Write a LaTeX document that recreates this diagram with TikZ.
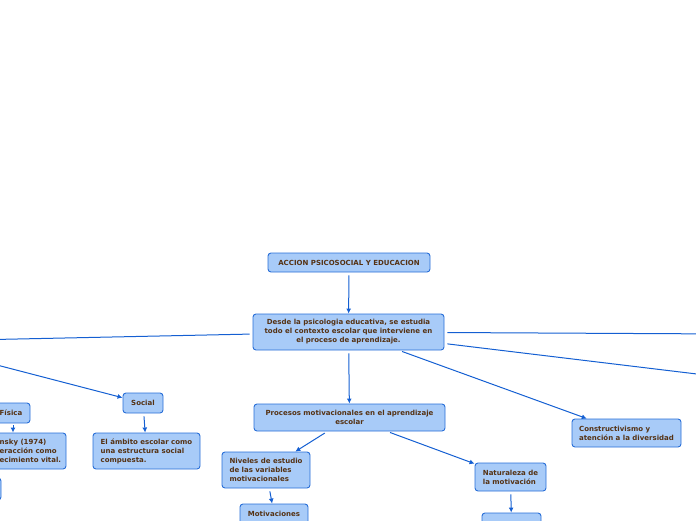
\documentclass[tikz,border=0pt]{standalone}
\usepackage{fontspec}
\setmainfont{DejaVu Sans}
\usetikzlibrary{arrows.meta}
\definecolor{boxfill}{RGB}{168,203,248}
\definecolor{boxline}{RGB}{40,110,215}
\definecolor{linkcol}{RGB}{20,95,210}
\definecolor{txt}{RGB}{85,50,20}
\begin{document}
\begin{tikzpicture}[x=1pt,y=-1pt,
  box/.style={draw=boxline, fill=boxfill, rounded corners=3pt, line width=0.9pt,
    font=\fontsize{7}{9}\selectfont\bfseries, text=txt, inner sep=0pt, align=center},
  lbox/.style={box, align=left},
  link/.style={draw=linkcol, line width=1pt},
  arr/.style={link, -{Latex[length=5pt,width=5pt]}}]
\useasboundingbox (0,0) rectangle (696,520);
\clip (0,0) rectangle (696,520);

% off-canvas ends
\coordinate (L1) at (-30,340);
\coordinate (L2) at (-30,358);
\coordinate (R1) at (730,334);
\coordinate (R2) at (730,378);

\node[box, minimum width=162pt, minimum height=19pt] (top) at (349,262.5) {ACCION PSICOSOCIAL Y EDUCACION};
\node[box, minimum width=191pt, minimum height=36pt] (main) at (348.5,332)
  {Desde la psicologia educativa, se estudia\\todo el contexto escolar que interviene en\\el proceso de aprendizaje.};
\node[box, minimum width=191pt, minimum height=27pt] (proc) at (349.5,417.5)
  {Procesos motivacionales en el aprendizaje\\escolar};
\node[box, minimum width=40pt, minimum height=20pt] (social) at (143,403) {Social};
\node[lbox, minimum width=107pt, minimum height=36pt] (ambito) at (146.5,451)
  {El ámbito escolar como\\una estructura social\\compuesta.};
\node[box, minimum width=38pt, minimum height=20pt] (fisica) at (11,413) {Física};
\node[box, minimum width=146pt, minimum height=36pt] (bron) at (-7,451) {};
\node[font=\fontsize{7}{9}\selectfont\bfseries, text=txt, align=left, inner sep=0pt, anchor=west] (brontxt) at (-0.5,451)
  {nsky (1974)\\eracción como\\ecimiento vital.};
\node[box, minimum width=61pt, minimum height=22pt] (lowleft) at (-29.5,489) {};
\node[lbox, minimum width=88pt, minimum height=36pt] (niveles) at (266,470)
  {Niveles de estudio\\de las variables\\motivacionales};
\node[box, minimum width=68pt, minimum height=20pt] (motiv) at (274,514) {Motivaciones};
\node[lbox, minimum width=109pt, minimum height=28pt] (constr) at (626.5,433)
  {Constructivismo y\\atención a la diversidad};
\node[lbox, minimum width=71pt, minimum height=28pt] (natur) at (510.5,477)
  {Naturaleza de\\la motivación};
\node[box, minimum width=59pt, minimum height=26pt] (natsub) at (511.5,526) {};

% connectors
\draw[arr, shorten <=3pt] (top) -- (main);
\draw[link, shorten <=3pt] (main) -- (L1);
\draw[link, shorten <=3pt] (main) -- (R1);
\draw[link, shorten <=3pt] (main) -- (R2);
\draw[arr, shorten <=3pt] (main) -- (constr);
\draw[arr, shorten <=3pt] (main) -- (proc);
\draw[arr] (L2) -- (social);
\draw[arr, shorten <=3pt] (social) -- (ambito);
\draw[arr, shorten <=2pt] ([xshift=2pt]fisica.south) -- ([xshift=2pt]fisica.south |- bron.north);
\draw[arr, shorten <=3pt] (proc) -- (niveles);
\draw[arr, shorten <=3pt] (proc) -- (natur);
\draw[arr, shorten <=3pt] (niveles) -- (motiv);
\draw[arr, shorten <=3pt] (natur) -- (natsub);
\end{tikzpicture}
\end{document}
